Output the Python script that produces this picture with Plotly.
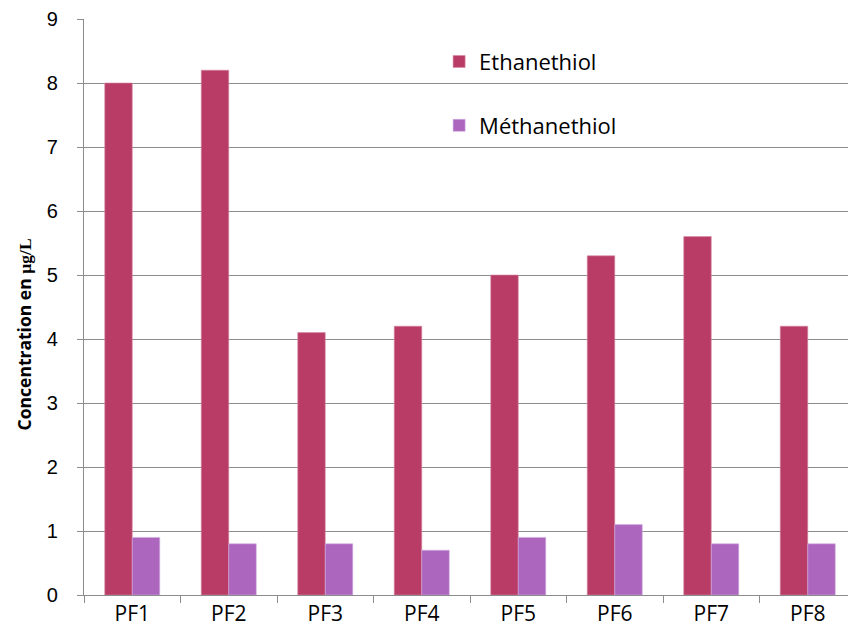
import plotly.graph_objects as go

categories = ["PF1", "PF2", "PF3", "PF4", "PF5", "PF6", "PF7", "PF8"]
ethanethiol = [8.0, 8.2, 4.1, 4.2, 5.0, 5.3, 5.6, 4.2]
methanethiol = [0.9, 0.8, 0.8, 0.7, 0.9, 1.1, 0.8, 0.8]
y_ticks = list(range(0, 10))

font_main = "Open Sans, Noto Sans, sans-serif"
grid_col = "#8c8c8c"

fig = go.Figure()
fig.add_trace(go.Bar(
    x=categories, y=ethanethiol, name="Ethanethiol",
    marker=dict(color="#B93C67", line=dict(color="#d58aa3", width=0.6)),
    legend="legend",
))
fig.add_trace(go.Bar(
    x=categories, y=methanethiol, name="Méthanethiol",
    marker=dict(color="#AD66BE", line=dict(color="#d2ade0", width=0.6)),
    legend="legend2",
))

fig.update_layout(
    width=856, height=642,
    margin=dict(l=76, r=8, t=11, b=55, autoexpand=False),
    paper_bgcolor="white", plot_bgcolor="white",
    barmode="group", bargap=0.43, bargroupgap=0,
    font=dict(family=font_main, size=21, color="black"),
    legend=dict(x=0.46, y=0.926, xanchor="left", yanchor="middle",
                font=dict(size=22, family=font_main), bgcolor="rgba(0,0,0,0)",
                itemwidth=30),
    legend2=dict(x=0.46, y=0.815, xanchor="left", yanchor="middle",
                 font=dict(size=22, family=font_main), bgcolor="rgba(0,0,0,0)",
                 itemwidth=30),
    showlegend=True,
    annotations=[dict(
        text="<b>Concentration en <span style='font-family:Liberation Serif, Times New Roman, serif'>µg/L</span></b>",
        textangle=-90, xref="paper", yref="paper", x=-0.078, y=0.452,
        xanchor="center", yanchor="middle", showarrow=False,
        font=dict(size=17.5, family=font_main, color="black"),
    )],
)

fig.update_yaxes(
    range=[0, 9], tickvals=y_ticks, ticktext=[str(v) for v in y_ticks],
    showgrid=True, gridcolor=grid_col, gridwidth=1.2,
    showline=True, linecolor=grid_col, linewidth=1.2,
    ticks="outside", ticklen=6, tickcolor=grid_col,
    ticklabelstandoff=15, ticklabeloverflow="allow", automargin=False,
    tickfont=dict(size=20, family="Liberation Sans, Arial, sans-serif"),
    zeroline=False,
)
fig.update_xaxes(
    showgrid=False, showline=True, linecolor=grid_col, linewidth=1.4,
    ticks="outside", ticklen=7, tickcolor=grid_col, tickson="boundaries",
    tickfont=dict(size=21), automargin=False,
)

fig.write_html("out.html")
